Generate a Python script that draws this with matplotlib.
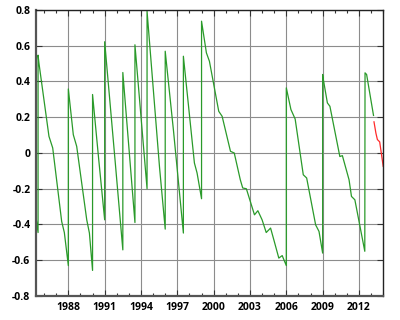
import matplotlib
matplotlib.use("Agg")
import matplotlib.pyplot as plt
from matplotlib.ticker import MultipleLocator, FixedLocator

# UT1-UTC (seconds), measured part; jumps are leap seconds
years = [1985.33, 1985.5, 1985.5, 1985.57, 1986.40, 1986.71, 1987.45, 1987.67, 1988.0,
         1988.0, 1988.41, 1988.69, 1989.52, 1989.74, 1990.0,
         1990.0, 1990.5, 1991.0,
         1991.0, 1991.87, 1992.5,
         1992.5, 1993.5,
         1993.5, 1994.5,
         1994.5, 1995.53, 1996.0,
         1996.0, 1996.69, 1997.5,
         1997.5, 1998.41, 1998.63, 1999.0,
         1999.0, 1999.4, 1999.65, 2000.42, 2000.7, 2001.39, 2001.7, 2002.2, 2002.4,
         2002.7, 2003.37, 2003.65, 2004.0, 2004.34, 2004.7, 2004.97, 2005.38, 2005.66, 2006.0,
         2006.0, 2006.38, 2006.73, 2007.4, 2007.68, 2008.42, 2008.7, 2009.0,
         2009.0, 2009.06, 2009.39, 2009.6, 2010.42, 2010.63, 2011.18, 2011.38, 2011.66, 2012.48,
         2012.5, 2012.63, 2013.2]
ut1_utc = [-0.36, -0.445, 0.547, 0.504, 0.093, 0.028, -0.383, -0.445, -0.63,
           0.358, 0.102, 0.037, -0.374, -0.448, -0.657,
           0.327, -0.03, -0.374,
           0.622, -0.05, -0.542,
           0.45, -0.389,
           0.605, -0.2,
           0.793, -0.08, -0.426,
           0.569, 0.12, -0.448,
           0.541, -0.056, -0.112, -0.256,
           0.737, 0.56, 0.513, 0.233, 0.205, 0.009, 0.0, -0.15, -0.196,
           -0.2, -0.346, -0.323, -0.374, -0.445, -0.42, -0.486, -0.588, -0.574, -0.63,
           0.364, 0.243, 0.19, -0.122, -0.14, -0.402, -0.439, -0.56,
           0.439, 0.41, 0.28, 0.261, -0.02, -0.015, -0.15, -0.243, -0.262, -0.55,
           0.448, 0.439, 0.21]

# prediction
pred_years = [2013.24, 2013.4, 2013.52, 2013.71, 2014.0]
pred_values = [0.174, 0.11, 0.075, 0.062, -0.075]

year_ticks = list(range(1988, 2013, 3))
value_ticks = [-0.8, -0.6, -0.4, -0.2, 0, 0.2, 0.4, 0.6, 0.8]
value_labels = ["-0.8", "-0.6", "-0.4", "-0.2", "0", "0.2", "0.4", "0.6", "0.8"]

plt.rcParams['font.family'] = ['Open Sans', 'DejaVu Sans']
fig = plt.figure(figsize=(4, 3.2), dpi=100)
ax = fig.add_axes([0.09, 0.075, 0.868, 0.894])

ax.plot(years, ut1_utc, color='#2a9a2a', lw=0.9)
ax.plot(pred_years, pred_values, color='#ff2a2a', lw=0.9)

ax.set_xlim(1985.33, 2014.0)
ax.set_ylim(-0.8, 0.8)
ax.xaxis.set_major_locator(FixedLocator(year_ticks))
ax.xaxis.set_minor_locator(MultipleLocator(1))
ax.set_xticklabels([str(y) for y in year_ticks])
ax.set_yticks(value_ticks)
ax.set_yticklabels(value_labels)

ax.grid(True, which='major', color='#8c8c8c', lw=0.8)
ax.tick_params(which='both', direction='in', top=True, right=True,
               labelsize=7.5, pad=4, color='#333333')
ax.tick_params(which='major', length=4, width=0.8)
ax.tick_params(which='minor', length=2.5, width=0.8)
for lbl in ax.get_xticklabels() + ax.get_yticklabels():
    lbl.set_fontweight('bold')

for s in ['left', 'bottom']:
    ax.spines[s].set_linewidth(1.6)
    ax.spines[s].set_color('#555555')
for s in ['top', 'right']:
    ax.spines[s].set_linewidth(1.0)
    ax.spines[s].set_color('#222222')

fig.savefig('out.png', dpi=100)
